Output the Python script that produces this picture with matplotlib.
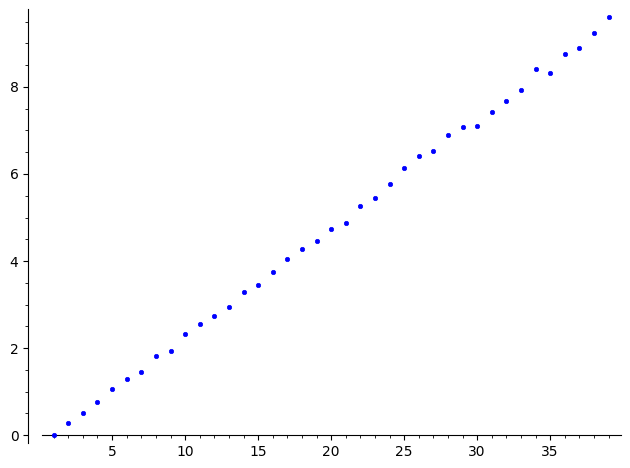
import matplotlib
matplotlib.use("Agg")
import matplotlib.pyplot as plt
from matplotlib.ticker import MultipleLocator

x_values = list(range(1, 40))
y_values = [0.00, 0.27, 0.51, 0.77, 1.05, 1.29, 1.46, 1.83, 1.94, 2.33,
            2.55, 2.74, 2.95, 3.28, 3.46, 3.75, 4.05, 4.28, 4.47, 4.73,
            4.87, 5.26, 5.45, 5.76, 6.13, 6.41, 6.53, 6.90, 7.09, 7.10,
            7.42, 7.68, 7.94, 8.41, 8.31, 8.76, 8.89, 9.24, 9.60]

fig = plt.figure(figsize=(6.3, 4.68), dpi=100)
ax = fig.add_axes([42/630, 25/468, (621-42)/630, (443-9)/468])
ax.scatter(x_values, y_values, s=10, color='blue', edgecolors='blue', linewidths=0.5, zorder=3)

ax.set_xlim(0.2, 39.85)
ax.set_ylim(-0.18, 9.79)

ax.spines['top'].set_visible(False)
ax.spines['right'].set_visible(False)
ax.spines['bottom'].set_position(('data', 0))
ax.spines['left'].set_position(('outward', 10))

ax.xaxis.set_major_locator(MultipleLocator(5))
ax.xaxis.set_minor_locator(MultipleLocator(1))
ax.yaxis.set_major_locator(MultipleLocator(2))
ax.yaxis.set_minor_locator(MultipleLocator(0.5))
ax.tick_params(labelsize=10)

fig.savefig("out.png", dpi=100)
